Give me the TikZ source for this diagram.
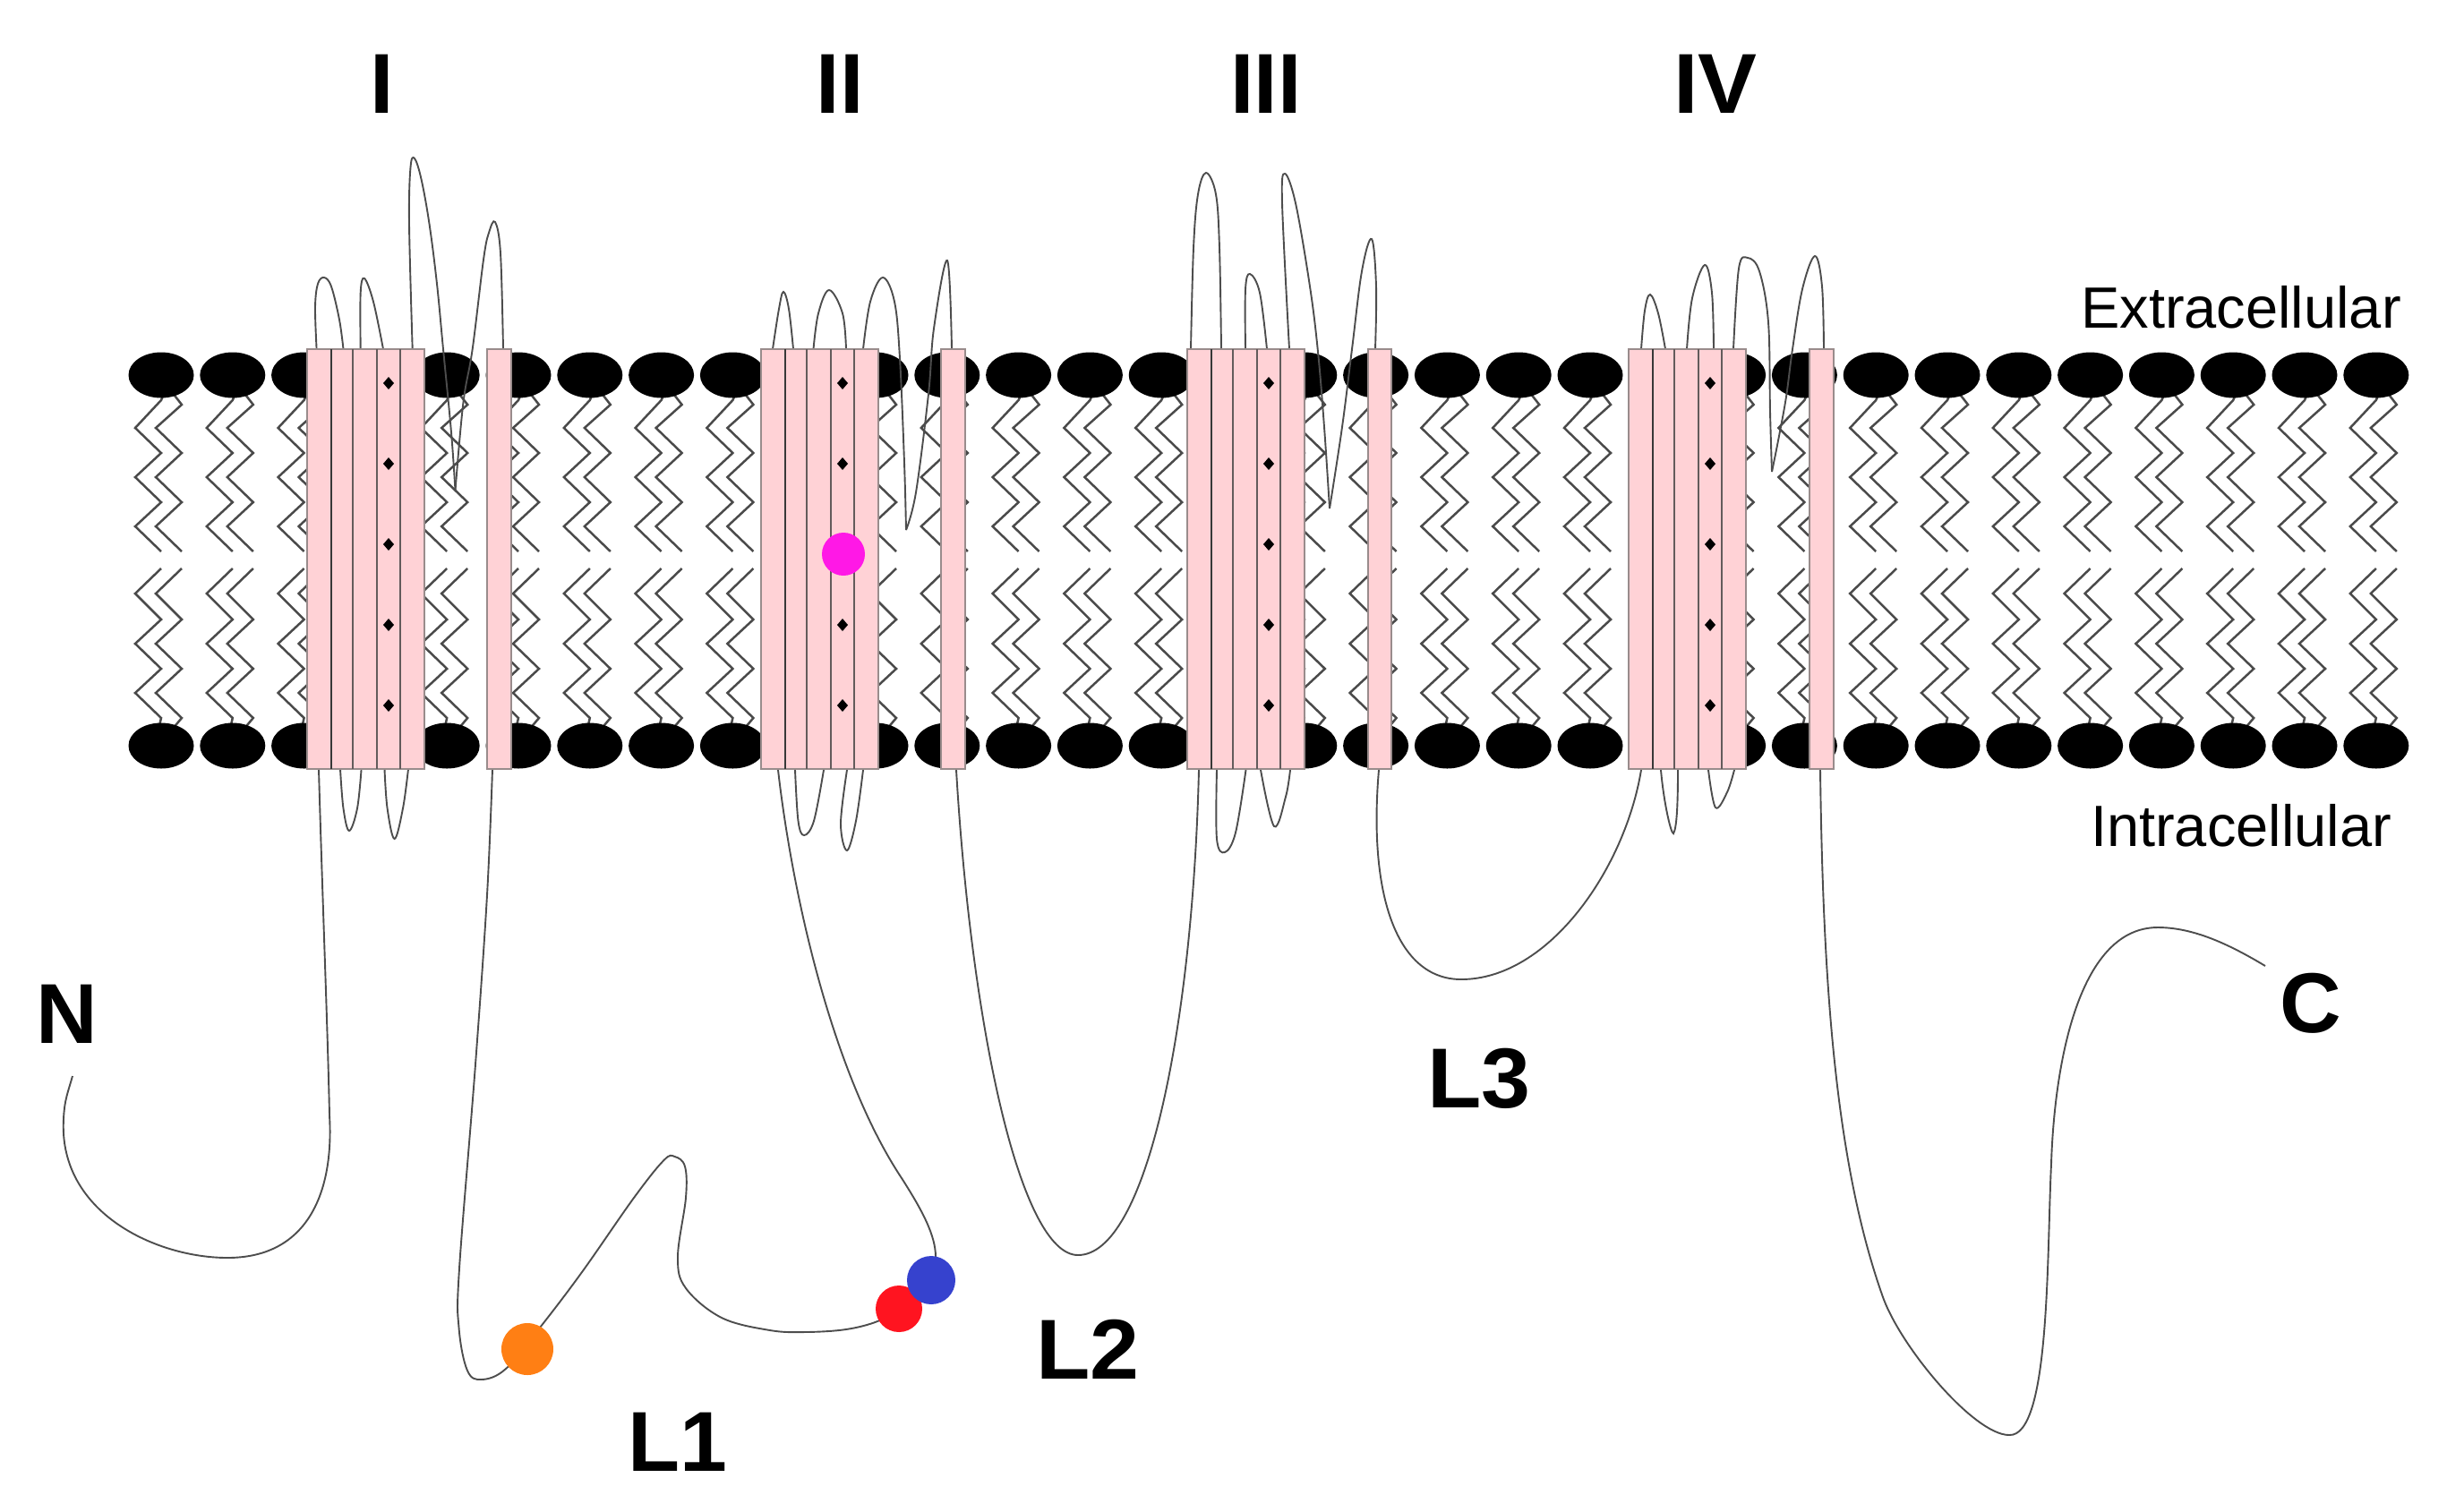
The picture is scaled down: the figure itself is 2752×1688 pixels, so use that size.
\documentclass[tikz,border=0pt]{standalone}
\usepackage{graphicx}
\usepackage{fontspec}
\setmainfont{Liberation Sans}
\definecolor{tailc}{HTML}{4A4A4A}
\definecolor{loopc}{HTML}{4D4D4D}
\definecolor{pinkc}{HTML}{FFD2D6}
\definecolor{edgec}{HTML}{998C8C}
\definecolor{orangec}{HTML}{FF7F14}
\definecolor{redc}{HTML}{FF1420}
\definecolor{bluec}{HTML}{3642CE}
\definecolor{magentac}{HTML}{FF18E6}
\tikzset{
  head/.style={fill=black,draw=none},
  tail/.style={draw=tailc,line width=1.25pt,line join=miter},
  strand/.style={draw=loopc,line width=0.95pt},
  seg/.style={fill=pinkc,draw=edgec,line width=1.4pt},
  divider/.style={draw=edgec!65!black,line width=1.4pt},
  darkdiv/.style={draw=black!78,line width=1.3pt},
  site/.style={fill=black,draw=none},
  bold/.style={font=\fontsize{47.5}{47.5}\selectfont\bfseries,inner sep=0pt,text=black},
  plain/.style={font=\fontsize{32.5}{32.5}\selectfont,inner sep=0pt,text=black},
  residue/.style={circle,inner sep=0pt,draw=none}
}
\newcommand{\wide}[1]{\scalebox{1.04}[1]{#1}}
\newcommand{\smoothcurve}[1]{\draw[strand] plot[smooth,tension=0.6] coordinates {#1};}
\newcommand{\bundle}[1]{%
  \draw[seg] (#1,390) rectangle (#1+131,859);
  \draw[darkdiv] (#1+27,390) -- (#1+27,859);
  \draw[divider] (#1+51,390) -- (#1+51,859);
  \draw[divider] (#1+78,390) -- (#1+78,859);
  \draw[divider] (#1+104,390) -- (#1+104,859);
  \foreach \yy in {428,518,608,698,788}
    \fill[site] (#1+91,\yy-7) -- (#1+97,\yy) -- (#1+91,\yy+7) -- (#1+85,\yy) -- cycle;
}
\begin{document}
\begin{tikzpicture}[x=0.5pt,y=-0.5pt]
\useasboundingbox (0,0) rectangle (2752,1688);
% lipids
\foreach \i in {0,...,31}{
  \pgfmathsetmacro{\cx}{180+79.8*\i}
  \begin{scope}[shift={(\cx,0)}]
    \draw[tail] (4,438) -- (0,447) -- (-29,478) -- (0,506) -- (-29,533) -- (0,561) -- (-29,588) -- (0,616);
    \draw[tail] (12,438) -- (23,452) -- (-6,478) -- (23,506) -- (-6,533) -- (23,561) -- (-6,588) -- (23,616);
    \draw[tail] (0,635) -- (-29,663) -- (0,692) -- (-29,719) -- (0,747) -- (-29,774) -- (0,802) -- (-3,815);
    \draw[tail] (23,635) -- (-6,663) -- (23,692) -- (-6,719) -- (23,747) -- (-6,774) -- (23,802) -- (12,815);
    \fill[head] (0,419) ellipse [x radius=36.5,y radius=25.5];
    \fill[head] (0,833) ellipse [x radius=36.5,y radius=25.5];
  \end{scope}
}
% extracellular loops, bundle I
\smoothcurve{(353.6,390)(352,343)(355,317)(362,310)(370,320)(379,357)(383.5,390)}
\smoothcurve{(402.7,390)(402.7,327)(407,311)(417,337)(428,390)}
\smoothcurve{(460.7,390)(457,250)(458.5,187)(463,177)(470.5,200)(479.5,250)(488,317)(495,390)(504,483)(508.5,548)}
\smoothcurve{(508.5,548)(517.4,450)(527.7,390)(540,290)(546,260)(553,248)(559,283)(562,390)}
% bundle II
\smoothcurve{(863,390)(870,345)(875,326)(881,345)(886,390)}
\smoothcurve{(908.5,390)(914,350)(926,324)(941,350)(945,390)}
\smoothcurve{(964,390)(972,337)(986,310)(999,337)(1005,400)(1010,517)(1012,592)}
\smoothcurve{(1012,592)(1023,550)(1037,440)(1043,367)(1058,291)(1063,390)}
% bundle III
\smoothcurve{(1330,390)(1333,277)(1338,217)(1347,193)(1358,217)(1362,277)(1364,390)}
\smoothcurve{(1391,390)(1391,323)(1396,306)(1407,327)(1415,390)}
\smoothcurve{(1440,390)(1432,227)(1435,194)(1447,227)(1463,320)(1472,393)(1479,477)(1485,568)}
\smoothcurve{(1485,568)(1499,477)(1510,390)(1521,303)(1532,267)(1537,320)(1536,390)}
% bundle IV
\smoothcurve{(1833,390)(1837,347)(1843,329)(1852,350)(1860,390)}
\smoothcurve{(1884,390)(1890,333)(1904,296)(1912,327)(1914,390)}
\smoothcurve{(1936,390)(1942,300)(1952,288)(1965,303)(1975,360)(1977,460)(1979,527)}
\smoothcurve{(1979,527)(1987,487)(1995,443)(2002,390)(2013,323)(2027,286)(2035,320)(2037,390)}
% intracellular short loops
\smoothcurve{(380,859)(383.5,903)(390,928)(399,903)(403.6,859)}
\smoothcurve{(429.5,859)(432.6,903)(440.6,937)(450,903)(456,859)}
\smoothcurve{(888,860)(891.5,917)(898,933)(909,917)(920,860)}
\smoothcurve{(946,860)(939,920)(946,950)(956,917)(964,860)}
\smoothcurve{(1359,860)(1359,937)(1368,952)(1380,930)(1391.5,860)}
\smoothcurve{(1408,860)(1423,923)(1436,890)(1441,860)}
\draw[strand] (1855,860) .. controls (1858,895) and (1866,931) .. (1869,931) .. controls (1873,925) and (1874,895) .. (1874,860);
\smoothcurve{(1908,860)(1916,902)(1929,885)(1937,860)}
% long linkers
\draw[strand] (356,859) .. controls (360,1000) and (366,1150) .. (368,1246)
  .. controls (373,1330) and (345,1405) .. (254,1405)
  .. controls (175,1405) and (65,1355) .. (71,1250)
  .. controls (72,1228) and (76,1220) .. (81,1202);
\smoothcurve{(550,859)(544,1000)(531,1189)(513,1417)(512.5,1483)(522,1531)(538,1541)(565,1529)(603,1483)(650,1421)(708,1338)(741.5,1296)(753.6,1292)(765,1303)(766,1338)(757,1404)(766,1439)(806,1472)(860,1486)(900,1488)(945,1485)(980,1476)(1004,1462)}
\draw[strand] (869,860) .. controls (885,1000) and (930,1200) .. (1007,1316)
  .. controls (1030,1352) and (1045,1380) .. (1045,1404) -- (1040,1430);
\draw[strand] (1068,860) .. controls (1085,1150) and (1140,1402) .. (1204,1402)
  .. controls (1280,1402) and (1332,1150) .. (1339,860);
\draw[strand] (1540,860) .. controls (1528,1000) and (1560,1094) .. (1632,1094)
  .. controls (1730,1094) and (1815,970) .. (1833,860);
\draw[strand] (2033,860) .. controls (2036,1100) and (2050,1300) .. (2103,1449)
  .. controls (2123,1505) and (2205,1603) .. (2244,1603)
  .. controls (2290,1605) and (2286,1400) .. (2291,1300)
  .. controls (2294,1200) and (2318,1036) .. (2410,1036)
  .. controls (2450,1036) and (2490,1055) .. (2530,1079);
% channel segments
\bundle{343}
\bundle{850}
\bundle{1326}
\bundle{1819}
\draw[seg] (544,390) rectangle (571,859);
\draw[seg] (1051,390) rectangle (1078,859);
\draw[seg] (1528,390) rectangle (1554,859);
\draw[seg] (2021,390) rectangle (2048,859);
% residues
\node[residue,fill=magentac,minimum size=24pt] (mut) at (942,619) {};
\node[residue,fill=orangec,minimum size=29pt] (ora) at (589,1507) {};
\node[residue,fill=redc,minimum size=26pt] (red) at (1004,1462) {};
\node[residue,fill=bluec,minimum size=27pt] (blu) at (1040,1430) {};
% labels
\node[bold] (t1) at (427,94) {I};
\node[bold] (t2) at (938,94) {II};
\node[bold] (t3) at (1414,94) {III};
\node[bold] (t4) at (1916,94) {\wide{IV}};
\node[bold] (n) at (75,1133) {N};
\node[bold] (c) at (2581,1121) {C};
\node[bold] (l1) at (757,1611) {L1};
\node[bold] (l2) at (1215,1507) {\wide{L2}};
\node[bold] (l3) at (1652,1205) {\wide{L3}};
\node[plain,anchor=base] (ex) at (2503,366) {Extracellular};
\node[plain,anchor=base] (in) at (2503,945) {Intracellular};
\end{tikzpicture}
\end{document}
